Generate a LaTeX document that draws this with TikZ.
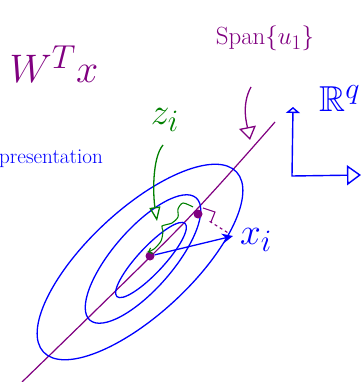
\documentclass[tikz,border=0pt]{standalone}
\usepackage{amsmath, amssymb}
\usepackage{xcolor}
\usepackage{tikz}
\usetikzlibrary{arrows.meta, positioning, calc}
\definecolor{penpurple}{RGB}{128,0,128}
\definecolor{penblue}{RGB}{0,0,255}
\definecolor{pengreen}{RGB}{0,128,0}
\tikzset{
    contour/.style={draw=penblue, line width=1.3pt},
    spanline/.style={draw=penpurple, line width=1.2pt},
    proj/.style={circle, fill=penpurple, inner sep=0pt, minimum size=9pt},
    penarrow/.style={line width=1.3pt, -{Triangle[open, length=13pt, width=17pt]}},
    note/.style={inner sep=0pt, font=\Huge},
}

\begin{document}
\begin{tikzpicture}[x=1pt, y=-1pt]
\useasboundingbox (0,0) rectangle (360,382);

% === LABELS ===
\node[note, text=penpurple, scale=1.6] (wtx) at (54,64) {$W^T x$};
\node[note, text=penpurple] (spanlab) at (265,38) {Span$\{u_1\}$};
\node[note, text=penblue, scale=1.45, anchor=base west] (rq) at (319,112) {$\mathbb{R}^q$};
\node[note, text=penblue, scale=0.85, anchor=base west] (repr) at (-1,164) {presentation};
\node[note, text=pengreen, scale=1.5] (zi) at (165,120) {$z_i$};
\node[note, text=penblue, scale=1.5] (xilab) at (256,240) {$x_i$};

% === SUBSPACE LINE ===
\coordinate (lo) at (22,382);
\coordinate (mid) at (180,227);
\coordinate (hi) at (275,122);
\draw[spanline] plot[smooth] coordinates {(lo) (mid) (hi)};

% === CONTOURS ===
\coordinate (outc) at (140,262);
\coordinate (midc) at (143,259);
\coordinate (inc) at (151,260);
\draw[contour, rotate around={43:(outc)}] (outc) ellipse [x radius=132pt, y radius=52pt];
\draw[contour, rotate around={49:(midc)}] (midc) ellipse [x radius=81pt, y radius=30pt];
\draw[contour, rotate around={47:(inc)}] (inc) ellipse [x radius=50pt, y radius=13pt];

% === AXES ===
\coordinate (orig) at (292,176);
\coordinate (yend) at (293,107);
\coordinate (xend) at (361,175);
\draw[penblue, line width=1.4pt, {Triangle[open, length=6pt, width=14pt]}-{Triangle[open, length=14pt, width=20pt]}]
    (yend) -- (orig) -- (xend);

% === PROJECTION ===
\node[proj] (zhi) at (198,214) {};
\node[proj] (zlo) at (150,256) {};
\coordinate (xi) at (233,236);
\draw[penblue, line width=1.3pt, -{Stealth[length=11pt, width=10pt]}] (zlo) -- (xi);
\draw[penpurple, line width=1.1pt, dashed, shorten <=9pt, shorten >=6pt] (zhi) -- (xi);
\draw[penpurple, line width=1.1pt] ($(zhi)+(5,-6)$) -- ($(zhi)+(17,-2)$) -- ($(zhi)+(13,8)$);

% === POINTERS ===
\coordinate (spanfrom) at (251,87);
\coordinate (spanto) at (250,140);
\draw[penpurple, penarrow] (spanfrom) .. controls (241,105) and (247,125) .. (spanto);
\coordinate (zfrom) at (163,145);
\coordinate (zto) at (157,221);
\draw[pengreen, line width=1.3pt, -{Triangle[open, length=14pt, width=11pt]}]
    (zfrom) .. controls (152,158) and (153,195) .. (zto);
\draw[pengreen, line width=1.1pt, -{Straight Barb[length=3pt]}]
    plot[smooth] coordinates {(193,207) (183,203) (178,209) (178,217) (172,223) (162,226) (163,231) (161,241) (154,249) (148,252)};

\end{tikzpicture}
\end{document}
